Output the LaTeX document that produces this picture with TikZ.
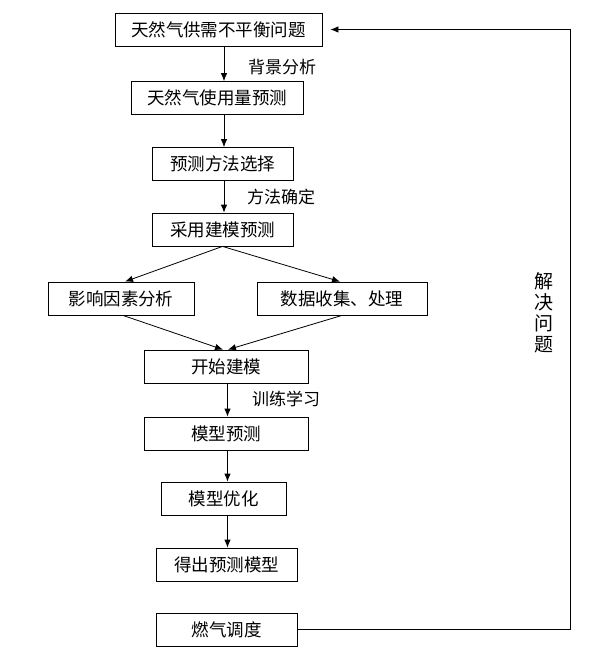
\documentclass[tikz,border=0pt]{standalone}
\usepackage{fontspec}
\newfontfamily\cjk{Noto Sans CJK SC}
\usepackage{tikz}
\usetikzlibrary{calc}
\usetikzlibrary{arrows.meta}
\usetikzlibrary{positioning}

\tikzset{
  stepbox/.style={rectangle, draw=black, line width=0.8pt, inner sep=0pt, minimum height=33pt, font=\cjk\fontsize{17.5}{20}\selectfont},
  note/.style={font=\cjk\fontsize{17}{20}\selectfont, inner sep=0pt},
  link/.style={-{Latex[length=8pt,width=6.5pt]}, line width=0.8pt, draw=black}
}

\begin{document}
\begin{tikzpicture}[x=1pt, y=-1pt]
\useasboundingbox (0,0) rectangle (605,657);
% main chain
\node [stepbox, minimum width=207pt] (problem) at (218.5, 29.5) {天然气供需不平衡问题};
\node [stepbox, minimum width=172pt] (usage) at (217, 98) {天然气使用量预测};
\node [stepbox, minimum width=141pt] (method) at (222.5, 164) {预测方法选择};
\node [stepbox, minimum width=141pt] (model) at (222.5, 229.5) {采用建模预测};
\node [stepbox, minimum width=146pt] (factor) at (121, 298.5) {影响因素分析};
\node [stepbox, minimum width=170pt] (data) at (342, 298.5) {数据收集、处理};
\node [stepbox, minimum width=164pt] (build) at (226, 366.5) {开始建模};
\node [stepbox, minimum width=164pt] (predict) at (226, 433.5) {模型预测};
\node [stepbox, minimum width=125pt] (optim) at (223.5, 498.5) {模型优化};
\node [stepbox, minimum width=141pt] (result) at (226.5, 564.5) {得出预测模型};
\node [stepbox, minimum width=141pt] (dispatch) at (226.5, 629.5) {燃气调度};
% labels
\node [note] (bg) at (282, 67) {背景分析};
\node [note] (sure) at (281, 197) {方法确定};
\node [note] (train) at (286, 399) {训练学习};
\node [note, align=center, font=\cjk\fontsize{19}{21}\selectfont] (solve) at (544, 313) {解\\决\\问\\题};
\coordinate (upper) at (224, 0);
\coordinate (lower) at (227.5, 0);
\coordinate (back) at (570.5, 29.5);
% arrows
\draw [link] (problem.south -| upper) to (usage.north -| upper);
\draw [link] (usage.south -| upper) to (method.north -| upper);
\draw [link] (method.south -| upper) to (model.north -| upper);
\draw [link] (model.south) to ($(factor.north)+(4,0)$);
\draw [link] (model.south) to ($(data.north)+(-2,0)$);
\draw [link] ($(factor.south)+(2,0)$) to ($(build.north)+(-3,0)$);
\draw [link] (data.south) to ($(build.north)+(2,0)$);
\draw [link] (build.south -| lower) to (predict.north -| lower);
\draw [link] (predict.south -| lower) to (optim.north -| lower);
\draw [link] (optim.south -| lower) to (result.north -| lower);
\draw [link, shorten >=8pt] (dispatch.east) -| (back) -- (problem.east);
\end{tikzpicture}
\end{document}
